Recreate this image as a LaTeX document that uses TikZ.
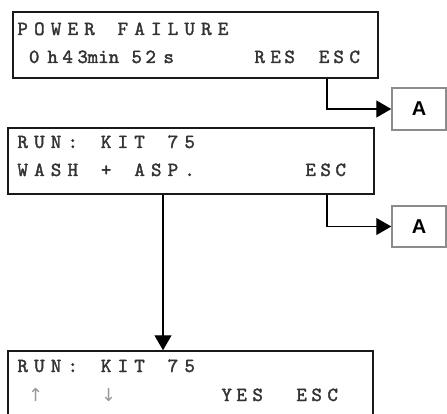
\documentclass[tikz,border=0pt]{standalone}
\usepackage{fontspec}
\newfontfamily\asans{Liberation Sans}
\newfontfamily\djv{DejaVu Sans}
\newfontfamily\lcdfont{lmmono10-regular.otf}[FakeBold=1.8]
\usetikzlibrary{arrows.meta}
\makeatletter
\newdimen\lcdpos
\newcommand\lcd[3]{\lcdpos=#1pt\relax\@tfor\lcdc:=#3\do{\rlap{\hspace*{\lcdpos}\makebox[0pt]{\lcdc}}\advance\lcdpos by #2pt\relax}}
\newcommand\at[2]{\rlap{\hspace*{#1pt}\makebox[0pt]{#2}}}
\makeatother
\tikzset{
  lcdbox/.style={draw=black!90, line width=1.5pt, minimum width=#1, inner sep=0pt},
  abox/.style={draw=black!45, line width=1.5pt, minimum width=54pt, inner sep=0pt,
    font=\asans\bfseries\fontsize{20}{20}\selectfont},
  lcdtext/.style={anchor=base west, inner sep=0pt, text=black!80,
    font=\lcdfont\fontsize{20}{20}\selectfont},
  conn/.style={draw=black, line width=1.4pt, -{Triangle[length=15pt,width=17pt]}},
}
\newcommand\grarrow[1]{\textcolor{black!40}{\djv\fontsize{18}{18}\selectfont #1}}
\begin{document}
\begin{tikzpicture}[x=1pt,y=-1pt]
\useasboundingbox (0,0) rectangle (447,414);
\clip (0,0) rectangle (447,414);
% boxes
\node[lcdbox=365pt, minimum height=66pt] (b1) at (195.5,45) {};
\node[lcdbox=366pt, minimum height=66pt] (b2) at (191,161) {};
\node[lcdbox=365pt, minimum height=79pt] (b3) at (190.5,390.5) {};
\node[abox, minimum height=42pt] (a1) at (419,109) {A};
\node[abox, minimum height=41pt] (a2) at (419,226.5) {A};
% texts
\node[lcdtext] (t11) at (0,35) {\lcd{22}{16.7}{POWER~FAILURE}};
\node[lcdtext] (t12) at (0,63) {\at{33.5}{0}\at{52}{h}\at{67}{4}\at{82}{3}\rlap{\hspace*{87pt}min}\at{136}{5}\at{150}{2}\at{168}{s}\at{259}{R}\at{275}{E}\at{289}{S}\at{323.5}{E}\at{338}{S}\at{354}{C}};
\node[lcdtext] (t21) at (0,148) {\lcd{22}{16.7}{RUN:~KIT~75}};
\node[lcdtext] (t22) at (0,176) {\lcd{22}{16.7}{WASH~+~ASP.}\at{310}{E}\at{325}{S}\at{340}{C}};
\node[lcdtext] (t31) at (0,372) {\lcd{22}{16.7}{RUN:~KIT~75}};
\node[lcdtext] (t32) at (0,401) {\at{35}{\grarrow{↑}}\at{108}{\grarrow{↓}}\at{226}{Y}\at{241}{E}\at{257}{S}\at{301}{E}\at{316}{S}\at{332}{C}};
% connectors
\coordinate (c1) at (327,0);
\coordinate (v) at (163,0);
\draw[conn] (b1.south -| c1) |- (a1.west);
\draw[conn] (b2.south -| c1) |- (a2.west);
\draw[conn] (b2.south -| v) -- (b3.north -| v);
\end{tikzpicture}
\end{document}
